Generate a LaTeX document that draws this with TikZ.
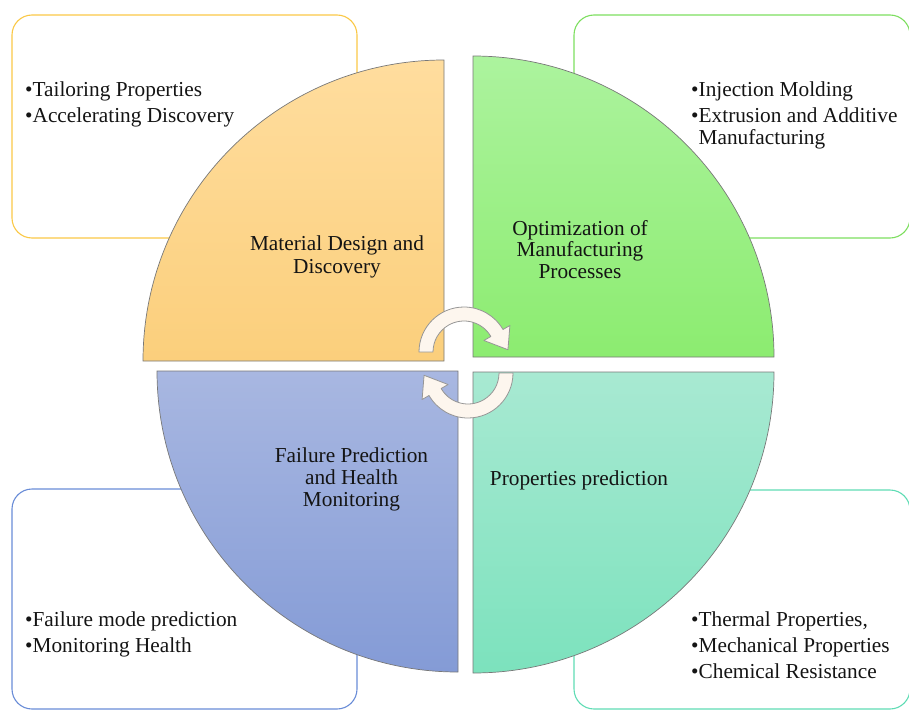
\documentclass[tikz,border=0pt]{standalone}
\usepackage{fontspec}
\setmainfont{Liberation Serif}
\definecolor{textcol}{RGB}{20,20,20}
\definecolor{boxO}{RGB}{250,200,70}
\definecolor{boxG}{RGB}{125,222,95}
\definecolor{boxB}{RGB}{105,140,215}
\definecolor{boxT}{RGB}{95,220,180}
\definecolor{oTop}{RGB}{255,221,158}
\definecolor{oBot}{RGB}{251,207,124}
\definecolor{gTop}{RGB}{172,243,158}
\definecolor{gBot}{RGB}{140,236,112}
\definecolor{bTop}{RGB}{168,183,225}
\definecolor{bBot}{RGB}{132,155,214}
\definecolor{tTop}{RGB}{168,233,210}
\definecolor{tBot}{RGB}{124,226,189}
\definecolor{quadline}{RGB}{120,120,120}
\definecolor{arrowfill}{RGB}{253,246,238}
\definecolor{arrowline}{RGB}{150,150,150}
\begin{document}
\begin{tikzpicture}[x=1pt,y=1pt,
  infobox/.style={line width=1.1pt, rounded corners=20pt},
  quad/.style={draw=quadline, line width=0.7pt},
  txt/.style={inner sep=0pt, text=textcol, font=\fontsize{21.3}{25}\selectfont},
  bul/.style={txt, anchor=base west},
  lab/.style={txt, anchor=base},
  cyc/.style={fill=arrowfill, draw=arrowline, line width=0.8pt, line join=round}
]
\useasboundingbox (0,0) rectangle (909,-709);
% outer boxes
\draw[infobox, draw=boxO] (12,-15) rectangle (357,-238);
\draw[infobox, draw=boxG] (574,-15) rectangle (910,-238);
\draw[infobox, draw=boxB] (12,-489) rectangle (357,-709);
\draw[infobox, draw=boxT] (574,-490) rectangle (910,-709);
% quadrants
\draw[quad, top color=oTop, bottom color=oBot] (444,-361) -- (143,-361) arc[start angle=180, end angle=90, radius=301] -- cycle;
\draw[quad, top color=gTop, bottom color=gBot] (473,-357) -- (774,-357) arc[start angle=0, end angle=90, radius=301] -- cycle;
\draw[quad, top color=bTop, bottom color=bBot] (458,-371) -- (157,-371) arc[start angle=180, end angle=270, radius=301] -- cycle;
\draw[quad, top color=tTop, bottom color=tBot] (473,-372) -- (774,-372) arc[start angle=0, end angle=-90, radius=301] -- cycle;
% circular arrows
\begin{scope}[shift={(464,-352)}]
\draw[cyc] (180:45) arc[start angle=180, end angle=30, radius=45] -- (30:53) -- (3:44) -- (30:23) -- (30:31) arc[start angle=30, end angle=180, radius=31] -- cycle;
\end{scope}
\begin{scope}[shift={(468,-373)}, rotate=180]
\draw[cyc] (180:45) arc[start angle=180, end angle=30, radius=45] -- (30:53) -- (3:44) -- (30:23) -- (30:31) arc[start angle=30, end angle=180, radius=31] -- cycle;
\end{scope}
% box texts
\node[bul] (tl1) at (25,-96.5) {•Tailoring Properties};
\node[bul] (tl2) at (25,-122) {•Accelerating Discovery};
\node[bul] (tr1) at (691,-96.5) {•Injection Molding};
\node[bul] (tr2) at (691,-122) {•Extrusion and Additive};
\node[bul] (tr3) at (691,-144.3) {\phantom{•}Manufacturing};
\node[bul] (bl1) at (25,-626.5) {•Failure mode prediction};
\node[bul] (bl2) at (25,-652) {•Monitoring Health};
\node[bul] (br1) at (691,-626.5) {•Thermal Properties,};
\node[bul] (br2) at (691,-652.3) {•Mechanical Properties};
\node[bul] (br3) at (691,-678.3) {•Chemical Resistance};
% quadrant labels
\node[lab] (m1) at (337,-250) {Material Design and};
\node[lab] (m2) at (337,-273.3) {Discovery};
\node[lab] (g1) at (580,-235) {Optimization of};
\node[lab] (g2) at (580,-256.7) {Manufacturing};
\node[lab] (g3) at (580,-278.3) {Processes};
\node[lab] (f1) at (351.5,-462.3) {Failure Prediction};
\node[lab] (f2) at (351.5,-484.5) {and Health};
\node[lab] (f3) at (351.5,-506) {Monitoring};
\node[lab] (p1) at (579,-485) {Properties prediction};
\end{tikzpicture}
\end{document}
